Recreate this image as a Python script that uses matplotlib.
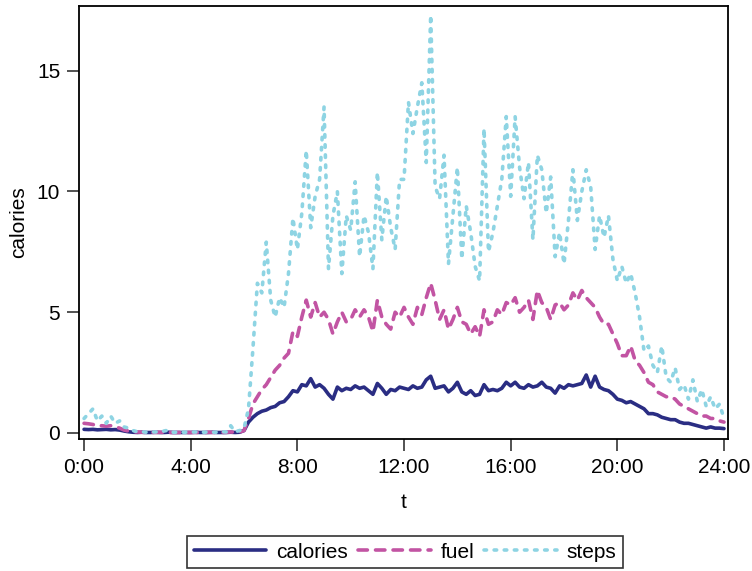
import numpy as np
import matplotlib
matplotlib.use("Agg")
import matplotlib.pyplot as plt

plt.rcParams['font.family'] = ['Liberation Sans', 'DejaVu Sans']

# 10-minute intervals over one day (hours 0..24)
minutes_step = 10
hour_ticks = [0, 4, 8, 12, 16, 20, 24]
hour_labels = ["0:00", "4:00", "8:00", "12:00", "16:00", "20:00", "24:00"]
y_ticks = [0, 5, 10, 15]

calories = [
    0.15, 0.14, 0.15, 0.13, 0.14, 0.15, 0.13, 0.14, 0.12, 0.08, 0.05, 0.03,
    0.02, 0.03, 0.02, 0.02, 0.03, 0.02, 0.02, 0.03, 0.02, 0.02, 0.02, 0.02,
    0.02, 0.03, 0.02, 0.02, 0.02, 0.03, 0.02, 0.02, 0.02, 0.03, 0.02, 0.03,
    0.10, 0.45, 0.65, 0.80, 0.90, 0.95, 1.05, 1.10, 1.25, 1.30, 1.50, 1.75,
    1.70, 2.00, 1.95, 2.25, 1.90, 2.00, 1.85, 1.60, 1.40, 1.90, 1.75, 1.85,
    1.80, 1.95, 1.85, 1.90, 1.75, 1.60, 2.05, 1.85, 1.60, 1.80, 1.75, 1.90,
    1.85, 1.80, 1.95, 1.85, 1.90, 2.20, 2.35, 1.85, 1.90, 1.95, 1.70, 1.85,
    2.10, 1.70, 1.60, 1.75, 1.55, 1.60, 2.00, 1.75, 1.80, 1.75, 1.85, 2.10,
    1.95, 2.10, 1.90, 1.85, 2.00, 1.90, 1.95, 2.10, 1.90, 1.85, 1.65, 1.95,
    1.85, 2.00, 1.95, 2.00, 2.05, 2.40, 1.90, 2.35, 1.90, 1.80, 1.75, 1.60,
    1.40, 1.35, 1.25, 1.30, 1.20, 1.10, 1.00, 0.80, 0.80, 0.75, 0.65, 0.60,
    0.55, 0.55, 0.45, 0.40, 0.40, 0.35, 0.30, 0.25, 0.20, 0.25, 0.20, 0.20,
    0.18,
]

fuel = [
    0.40, 0.38, 0.35, 0.30, 0.30, 0.28, 0.30, 0.25, 0.20, 0.12, 0.08, 0.05,
    0.04, 0.03, 0.02, 0.02, 0.02, 0.03, 0.02, 0.02, 0.02, 0.02, 0.02, 0.02,
    0.02, 0.02, 0.02, 0.02, 0.03, 0.02, 0.02, 0.02, 0.03, 0.04, 0.03, 0.04,
    0.10, 0.60, 1.20, 1.50, 1.80, 2.00, 2.30, 2.60, 2.80, 3.10, 3.30, 4.20,
    4.00, 4.80, 5.50, 4.80, 5.40, 4.80, 5.00, 4.70, 4.10, 4.60, 5.00, 4.60,
    4.70, 5.10, 4.80, 5.10, 4.80, 4.20, 5.50, 4.80, 4.50, 4.30, 5.00, 4.80,
    5.20, 4.80, 4.50, 5.20, 4.90, 5.60, 6.20, 5.50, 4.70, 5.10, 4.30, 4.70,
    5.20, 4.60, 4.50, 4.10, 4.40, 4.00, 5.10, 4.50, 4.60, 5.10, 4.90, 5.40,
    5.30, 5.60, 5.00, 5.20, 5.50, 4.70, 5.90, 5.40, 5.20, 4.70, 5.30, 5.40,
    5.10, 5.30, 5.80, 5.50, 5.90, 5.60, 5.40, 5.20, 4.80, 4.50, 4.50, 4.10,
    3.70, 3.20, 3.20, 3.60, 3.00, 2.80, 2.50, 2.10, 2.00, 1.70, 1.60, 1.50,
    1.50, 1.40, 1.20, 1.10, 1.00, 0.90, 0.80, 0.70, 0.70, 0.60, 0.60, 0.50,
    0.45,
]

steps = [
    0.60, 0.80, 1.00, 0.50, 0.70, 0.40, 0.70, 0.40, 0.50, 0.25, 0.20, 0.10,
    0.05, 0.05, 0.03, 0.04, 0.04, 0.05, 0.08, 0.12, 0.03, 0.03, 0.03, 0.03,
    0.03, 0.04, 0.03, 0.03, 0.04, 0.03, 0.03, 0.05, 0.04, 0.30, 0.05, 0.10,
    0.20, 1.00, 3.50, 6.20, 5.80, 7.90, 5.50, 4.80, 5.60, 5.20, 6.60, 8.90,
    7.60, 9.10, 11.7, 8.50, 9.80, 10.5, 13.5, 6.80, 9.00, 10.0, 6.60, 9.00,
    8.40, 10.4, 7.30, 9.00, 8.30, 6.80, 10.8, 8.00, 9.80, 8.50, 7.60, 10.5,
    10.5, 13.7, 12.4, 13.5, 14.5, 11.2, 17.3, 10.2, 9.70, 11.5, 7.00, 9.00,
    11.0, 7.20, 9.40, 8.30, 6.90, 6.30, 12.6, 7.50, 8.30, 9.40, 10.5, 13.1,
    9.80, 13.1, 11.0, 9.70, 11.2, 8.00, 11.5, 10.9, 9.10, 10.6, 7.30, 8.30,
    7.00, 8.80, 10.9, 8.80, 10.0, 10.9, 10.2, 7.60, 9.00, 8.10, 9.00, 7.20,
    6.30, 6.90, 6.20, 6.60, 5.80, 4.80, 3.40, 3.60, 2.80, 2.50, 3.60, 2.30,
    2.10, 2.70, 1.80, 2.00, 1.40, 2.20, 1.30, 1.80, 1.10, 1.50, 1.00, 1.20,
    0.60,
]

hours = np.arange(len(calories)) * minutes_step / 60.0

fig = plt.figure(figsize=(7.52, 5.71), dpi=100)
ax = fig.add_axes([79 / 752, 1 - 439 / 571, 649 / 752, 433 / 571])

lw = 2.6
ax.plot(hours, calories, color="#2a2d83", lw=lw, solid_capstyle="round",
        solid_joinstyle="round", label="calories")
ax.plot(hours, fuel, color="#c254a3", lw=lw, linestyle=(0, (2.6, 2.25)),
        dash_capstyle="round", dash_joinstyle="round", label="fuel")
ax.plot(hours, steps, color="#8ed4e3", lw=lw, linestyle=(0, (0.7, 2.1)),
        dash_capstyle="round", dash_joinstyle="round", label="steps")

ax.set_xlim(-0.19, 24.15)
ax.set_ylim(-0.25, 17.68)
ax.set_xticks(hour_ticks)
ax.set_xticklabels(hour_labels)
ax.set_yticks(y_ticks)
ax.set_yticklabels([str(v) for v in y_ticks])

for s in ax.spines.values():
    s.set_linewidth(1.3)
    s.set_color("black")
ax.tick_params(axis="both", direction="out", length=8.5, width=1.3,
               color="#444444", labelsize=15, pad=5)

ax.set_xlabel("t", fontsize=15)
ax.set_ylabel("calories", fontsize=15)
ax.xaxis.set_label_coords(0.5, -0.125)
ax.yaxis.set_label_coords(-0.078, 0.5)

leg = fig.legend(loc="center", bbox_to_anchor=(405 / 752, 1 - 552 / 571),
                 ncol=3, frameon=True, fancybox=False, fontsize=15,
                 handlelength=3.5, handletextpad=0.45, columnspacing=0.5,
                 borderpad=0.3, borderaxespad=0.0)
leg.get_frame().set_edgecolor("black")
leg.get_frame().set_linewidth(1.2)
leg.get_frame().set_boxstyle("square", pad=0)

fig.savefig("out.png", dpi=100)
